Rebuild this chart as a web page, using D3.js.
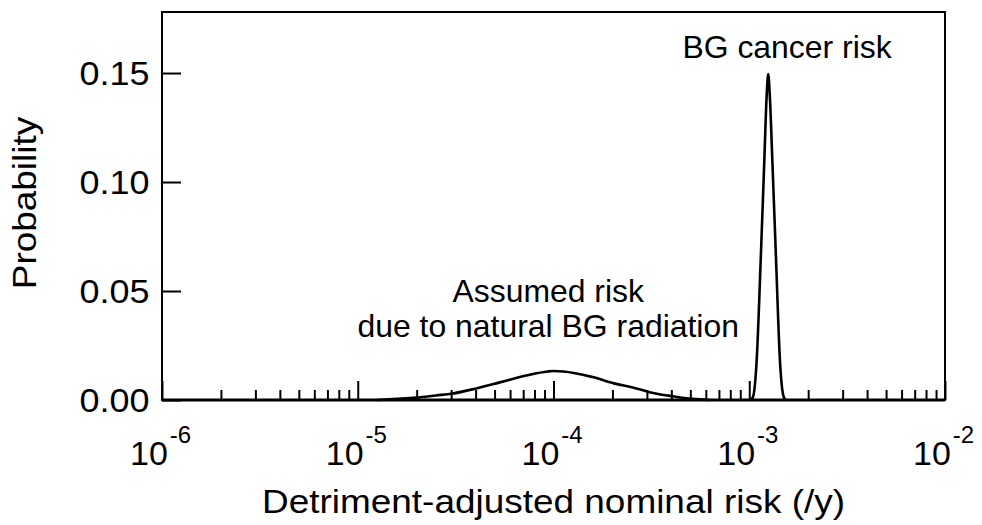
<!DOCTYPE html>
<html><head><meta charset="utf-8">
<script src="https://cdn.jsdelivr.net/npm/d3@7"></script>
<style>
body{margin:0;background:#fff}
text{font-family:"Liberation Sans",Arial,Helvetica,sans-serif;fill:#000}
</style>
</head><body>
<svg id="chart" width="982" height="525"></svg>
<script>
// ---- data ----
const xDomain = [1e-6, 1e-2];
const yDomain = [0, 0.178];
const yTickValues = [0.00, 0.05, 0.10, 0.15];
const xMajorTicks = [1e-6, 1e-5, 1e-4, 1e-3, 1e-2];
const xTickExponents = ["-6", "-5", "-4", "-3", "-2"];
const xTitle = "Detriment-adjusted nominal risk (/y)";
const yTitle = "Probability";

// natural background radiation (broad curve)
const natRisk = [1.259e-5, 1.585e-5, 1.995e-5, 2.512e-5, 3.02e-5, 4.07e-5, 5.37e-5, 7.24e-5, 9.33e-5, 1.0e-4, 1.122e-4, 1.585e-4, 2.089e-4, 2.512e-4, 3.09e-4, 4.07e-4, 5.13e-4, 6.31e-4];
const natProb = [0.0000, 0.0005, 0.0011, 0.0021, 0.0029, 0.0054, 0.0082, 0.0112, 0.0131, 0.0133, 0.0131, 0.0105, 0.0074, 0.0059, 0.0036, 0.0017, 0.0005, 0.0000];

// BG cancer risk (narrow peak)
const cancerRisk = [1.023e-3, 1.050e-3, 1.091e-3, 1.144e-3, 1.194e-3, 1.225e-3, 1.250e-3, 1.276e-3, 1.312e-3, 1.371e-3, 1.435e-3, 1.493e-3, 1.531e-3];
const cancerProb = [0.000, 0.002, 0.018, 0.064, 0.110, 0.138, 0.1495, 0.138, 0.110, 0.064, 0.018, 0.002, 0.000];

const annotationText = ["BG cancer risk", "Assumed risk", "due to natural BG radiation"];
const annotationRisk = [1.56e-3, 9.4e-5, 9.4e-5];
const annotationProb = [0.157, 0.0450, 0.0290];

// ---- layout ----
const W = 982, H = 525;
const m = {top: 12, right: 37, bottom: 125, left: 162};
const iw = W - m.left - m.right, ih = H - m.top - m.bottom;

const svg = d3.select("#chart");
const g = svg.append("g").attr("transform", `translate(${m.left},${m.top})`);

const x = d3.scaleLog().domain(xDomain).range([0, iw]);
const y = d3.scaleLinear().domain(yDomain).range([ih, 0]);

function stretch(sel, k) {
  sel.each(function() {
    const t = d3.select(this);
    const ax = +t.attr("x"), ay = +t.attr("y");
    t.attr("transform", `translate(${ax},${ay}) scale(${k},1) translate(${-ax},${-ay})`);
  });
}

// minor ticks
const minorTicks = [];
xMajorTicks.slice(0, -1).forEach(d => { for (let i = 2; i <= 9; i++) minorTicks.push(d * i); });

const xAxisMinor = d3.axisBottom(x).tickValues(minorTicks).tickSize(-10).tickSizeOuter(0).tickFormat("");
const xAxisMajor = d3.axisBottom(x).tickValues(xMajorTicks).tickSize(-19).tickSizeOuter(0).tickFormat("");
const yAxis = d3.axisLeft(y).tickValues(yTickValues).tickSize(-19).tickSizeOuter(0).tickFormat("");

const gxm = g.append("g").attr("transform", `translate(0,${ih})`).call(xAxisMinor);
const gxM = g.append("g").attr("transform", `translate(0,${ih})`).call(xAxisMajor);
const gy = g.append("g").call(yAxis);
[gxm, gxM, gy].forEach(a => {
  a.select(".domain").remove();
  a.selectAll(".tick line").attr("stroke", "#000").attr("stroke-width", 2);
});

// frame
g.append("rect").attr("x", 0).attr("y", 0).attr("width", iw).attr("height", ih)
  .attr("fill", "none").attr("stroke", "#000").attr("stroke-width", 2);
g.append("line").attr("x1", 0).attr("x2", iw).attr("y1", y(0)).attr("y2", y(0))
  .attr("stroke", "#000").attr("stroke-width", 3);

// curves
const line = d3.line().x(d => x(d[0])).y(d => y(d[1])).curve(d3.curveMonotoneX);
g.append("path").datum(d3.zip(natRisk, natProb)).attr("d", line)
  .attr("fill", "none").attr("stroke", "#000").attr("stroke-width", 2.6);
g.append("path").datum(d3.zip(cancerRisk, cancerProb)).attr("d", line)
  .attr("fill", "none").attr("stroke", "#000").attr("stroke-width", 2.6).attr("stroke-linejoin", "round");

// y tick labels
const yl = g.append("g").selectAll("text").data(yTickValues).join("text")
  .attr("x", -12.5).attr("y", d => y(d) + 12)
  .attr("text-anchor", "end").attr("font-size", 33)
  .text(d => d3.format(".2f")(d));
stretch(yl, 1.09);

// x tick labels with superscripts
const xl = g.append("g").selectAll("text").data(xMajorTicks).join("text")
  .attr("x", d => x(d) - 32).attr("y", ih + 65)
  .attr("text-anchor", "start").attr("font-size", 34);
xl.append("tspan").text("10");
xl.append("tspan").attr("dx", 2).attr("dy", -22).attr("font-size", 24).text((d, i) => xTickExponents[i]);

// axis titles
const xt = g.append("text").attr("x", iw / 2).attr("y", ih + 113)
  .attr("text-anchor", "middle").attr("font-size", 33).text(xTitle);
stretch(xt, 1.12);
const ytx = 36 - m.left, yty = 203 - m.top;
g.append("text").attr("transform", `translate(${ytx},${yty}) rotate(-90) scale(1.12,1)`)
  .attr("text-anchor", "middle").attr("font-size", 33).text(yTitle);

// annotations
const an = g.append("g").selectAll("text").data(annotationText).join("text")
  .attr("x", (d, i) => x(annotationRisk[i])).attr("y", (d, i) => y(annotationProb[i]))
  .attr("text-anchor", "middle").attr("font-size", 31).text(d => d);
stretch(an, 1.03);
</script>
</body></html>
